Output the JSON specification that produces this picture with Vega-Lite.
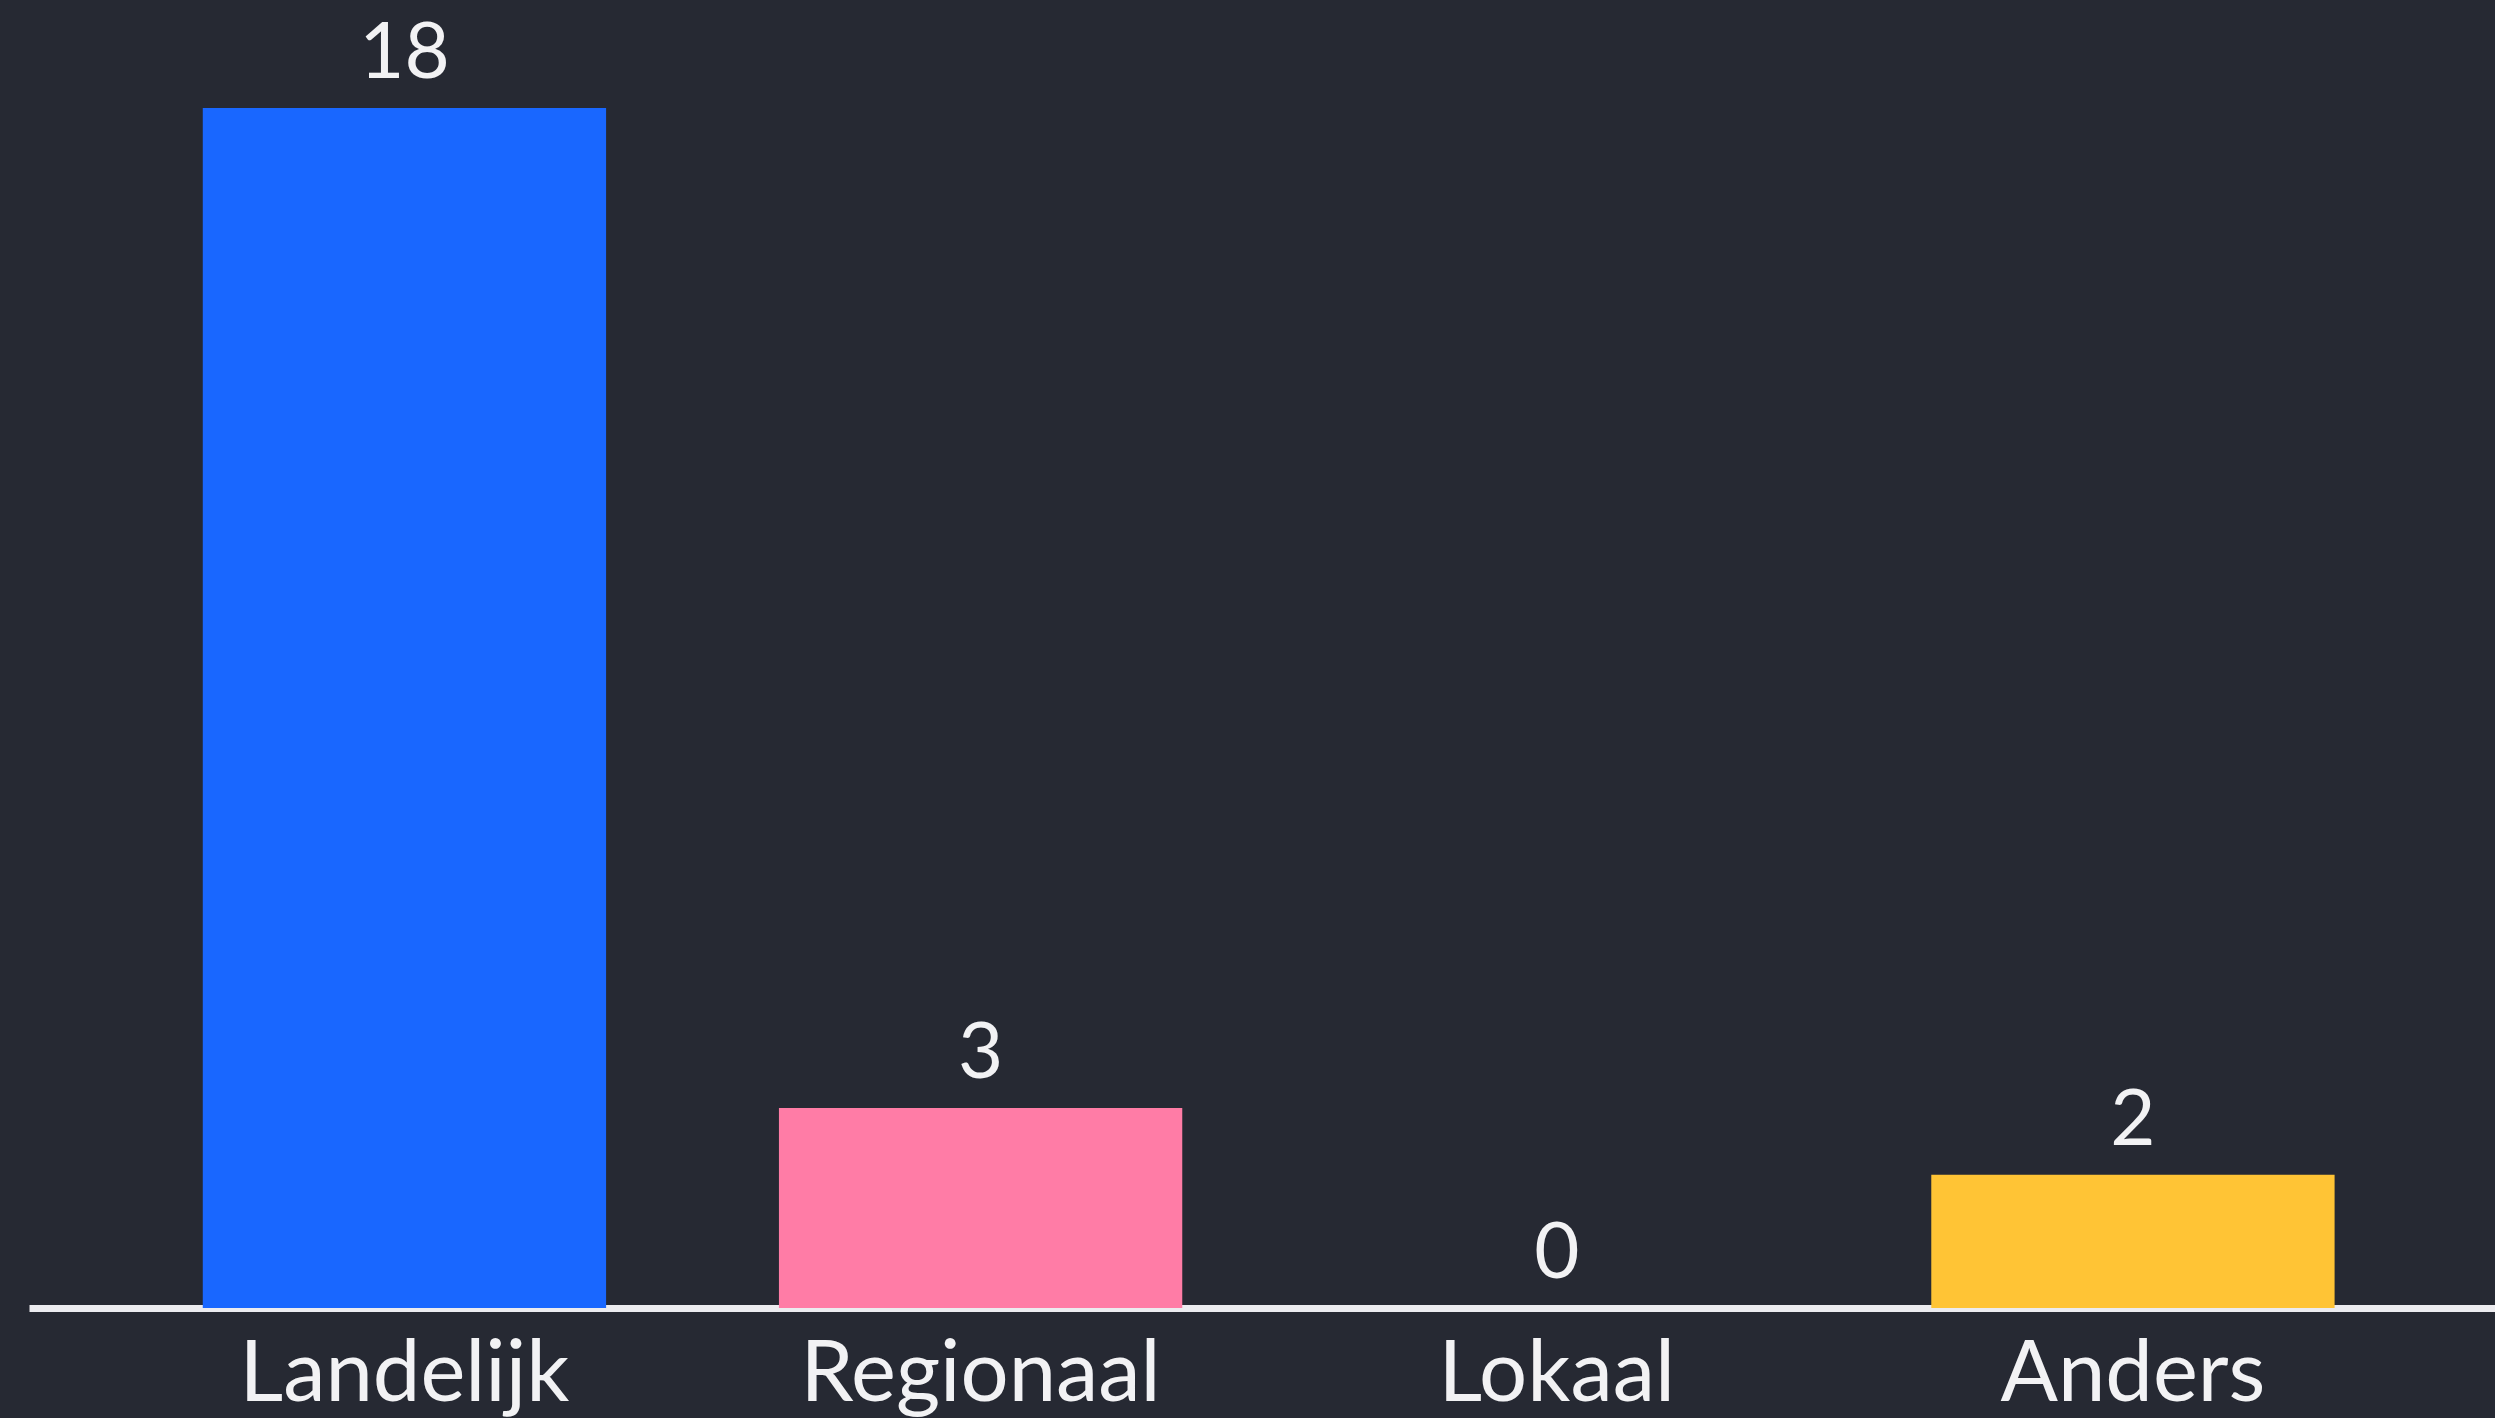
{
  "$schema": "https://vega.github.io/schema/vega-lite/v6.json",
  "autosize": {"type": "none"},
  "width": 2466,
  "height": 1308,
  "padding": {"left": 29, "top": 0, "right": 0, "bottom": 110},
  "background": "#262933",
  "config": {"view": {"stroke": null}, "font": "Lato"},
  "data": {"values": [
    {"cat": "Landelijk", "n": 18},
    {"cat": "Regionaal", "n": 3},
    {"cat": "Lokaal", "n": 0},
    {"cat": "Anders", "n": 2}
  ]},
  "encoding": {
    "x": {"field": "cat", "type": "nominal", "sort": null,
      "scale": {"paddingInner": 0.3, "paddingOuter": 0.29, "align": 0.52},
      "axis": {"title": null, "ticks": false, "domainColor": "#ececf0", "domainWidth": 7,
        "labelColor": "#f2f2f4", "labelFontSize": 85, "labelFont": "Lato", "labelPadding": 25, "labelAngle": 0, "labelLimit": 0}},
    "y": {"field": "n", "type": "quantitative", "scale": {"domain": [0, 19.62], "nice": false, "zero": true}, "axis": null}
  },
  "layer": [
    {"mark": {"type": "bar"},
     "encoding": {"color": {"field": "cat", "type": "nominal", "sort": null, "legend": null,
       "scale": {"domain": ["Landelijk", "Regionaal", "Lokaal", "Anders"], "range": ["#1967ff", "#ff7ca6", "#8f8f8f", "#ffc435"]}}}},
    {"mark": {"type": "text", "baseline": "alphabetic", "dy": -30, "fontSize": 78, "color": "#f2f2f4", "font": "Lato"},
     "encoding": {"text": {"field": "n", "type": "quantitative"}}}
  ]
}
